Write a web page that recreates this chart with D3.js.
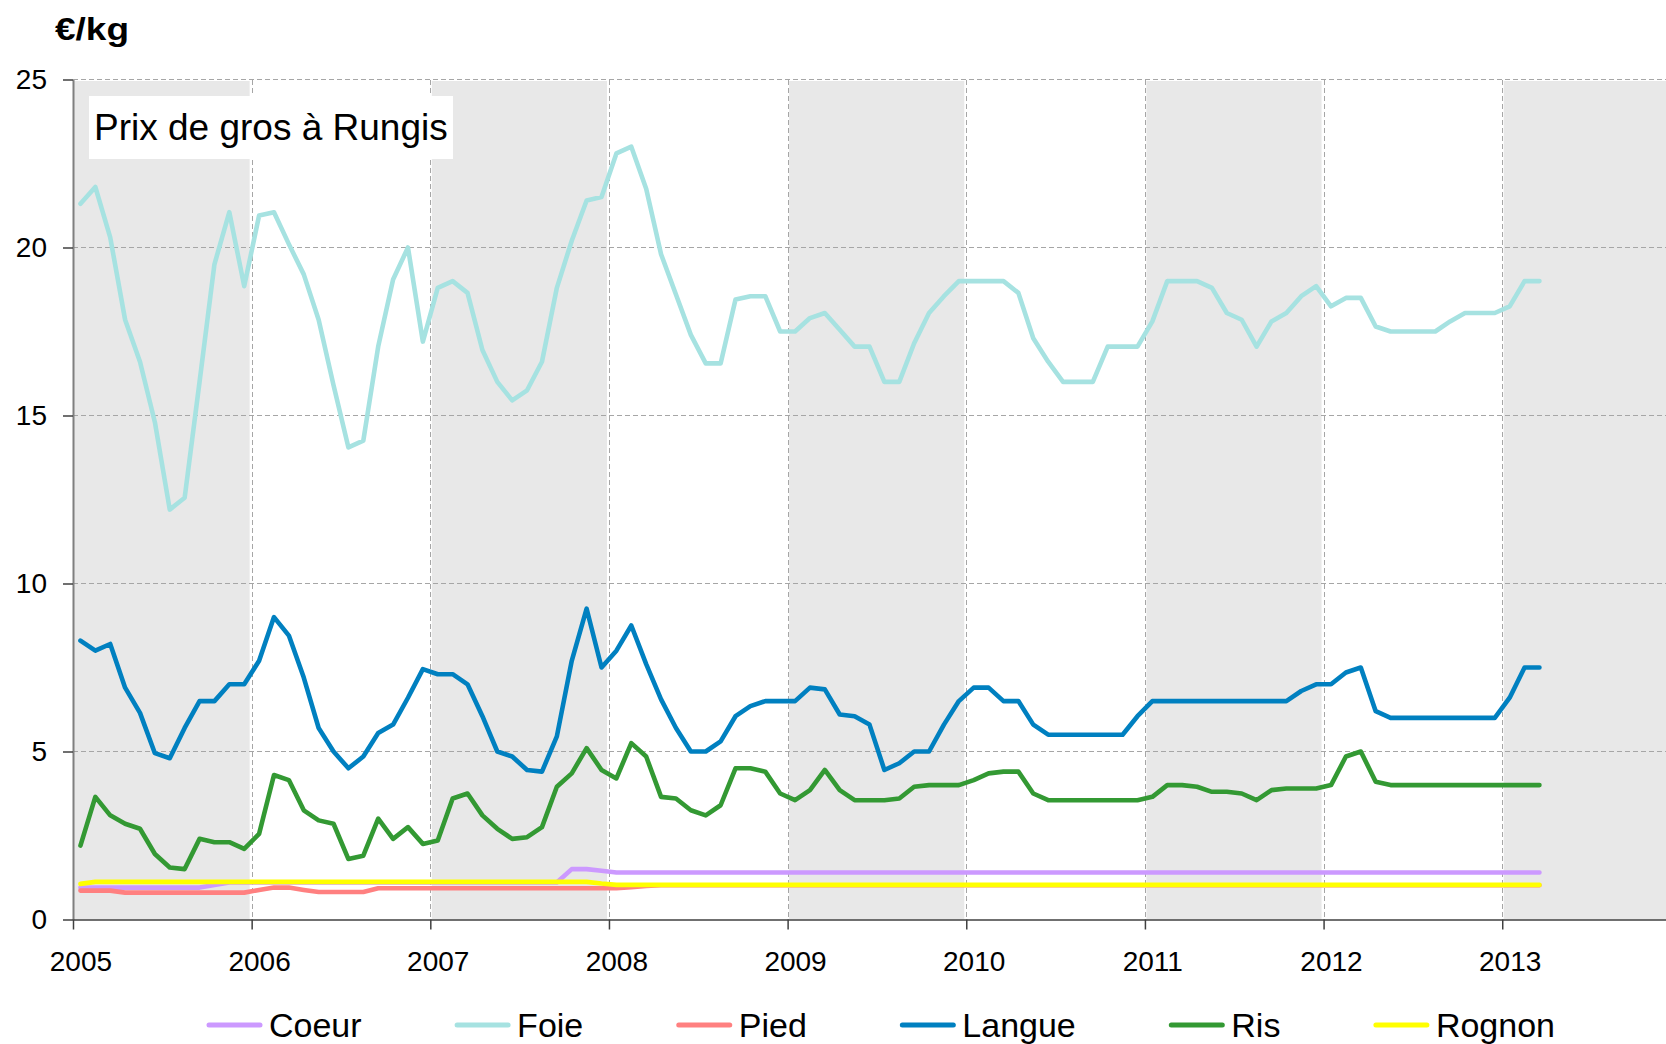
<!DOCTYPE html>
<html><head><meta charset="utf-8">
<script src="https://cdn.jsdelivr.net/npm/d3@7"></script>
<style>
body{margin:0;background:#fff}
svg{display:block;font-family:"Liberation Sans",Arial,sans-serif}
</style>
</head><body>
<svg id="c" width="1666" height="1044"></svg>
<script>
// ---- data ----
const years = ["2005","2006","2007","2008","2009","2010","2011","2012","2013"];
const yTicks = [0,5,10,15,20,25];
const seriesNames = ["Coeur","Foie","Pied","Langue","Ris","Rognon"];
const seriesColors = ["#cc99ff","#a6e2e1","#ff8080","#0080c0","#339933","#ffff00"];
const unitLabel = "€/kg";
const boxTitle = "Prix de gros à Rungis";

// monthly values, Jan 2005 .. Mar 2013
const coeur = [0.95,0.95,0.95,0.95,0.95,0.95,0.95,0.95,0.95,1.03,
  1.1,1.1,1.1,1.1,1.1,1.1,1.1,1.1,1.1,1.1,1.1,1.1,1.1,1.1,1.1,1.1,1.1,1.1,1.1,1.1,1.1,1.1,1.1,
  1.5,1.5,1.45,
  1.4,1.4,1.4,1.4,1.4,1.4,1.4,1.4,1.4,1.4,1.4,1.4,1.4,1.4,1.4,1.4,1.4,1.4,1.4,1.4,1.4,1.4,1.4,1.4,1.4,
  1.4,1.4,1.4,1.4,1.4,1.4,1.4,1.4,1.4,1.4,1.4,1.4,1.4,1.4,1.4,1.4,1.4,1.4,1.4,1.4,1.4,1.4,1.4,1.4,1.4,
  1.4,1.4,1.4,1.4,1.4,1.4,1.4,1.4,1.4,1.4,1.4,1.4,1.4];
const foie = [21.3,21.8,20.3,17.85,16.6,14.8,12.2,12.55,16.0,19.5,
  21.05,18.85,20.95,21.05,20.1,19.2,17.85,15.9,14.05,14.25,
  17.05,19.05,20.0,17.2,18.8,19.0,18.65,16.95,16.0,15.45,
  15.75,16.6,18.8,20.2,21.4,21.5,22.8,23.0,21.75,19.8,
  18.6,17.4,16.55,16.55,18.45,18.55,18.55,17.5,17.5,17.9,
  18.05,17.55,17.05,17.05,16.0,16.0,17.15,18.05,18.55,19.0,
  19.0,19.0,19.0,18.65,17.3,16.6,16.0,16.0,16.0,17.05,
  17.05,17.05,17.8,19.0,19.0,19.0,18.8,18.05,17.85,17.05,
  17.8,18.05,18.55,18.85,18.25,18.5,18.5,17.65,17.5,17.5,
  17.5,17.5,17.8,18.05,18.05,18.05,18.25,19.0,19.0];
const pied = [0.86,0.86,0.86,0.8,0.8,0.8,0.8,0.8,0.8,0.8,0.8,0.8,
  0.88,0.95,0.95,0.88,0.82,0.82,0.82,0.82,
  0.93,0.93,0.93,0.93,0.93,0.93,0.93,0.93,0.93,0.93,0.93,0.93,0.93,0.93,0.93,0.93,0.93,
  0.96,1.0,
  1.02,1.02,1.02,1.02,1.02,1.02,1.02,1.02,1.02,1.02,1.02,1.02,1.02,1.02,1.02,1.02,1.02,1.02,1.02,1.02,
  1.02,1.02,1.02,1.02,1.02,1.02,1.02,1.02,1.02,1.02,1.02,1.02,1.02,1.02,1.02,1.02,1.02,1.02,1.02,1.02,
  1.02,1.02,1.02,1.02,1.02,1.02,1.02,1.02,1.02,1.02,1.02,1.02,1.02,1.02,1.02,1.02,1.02,1.02,1.02,1.02];
const langue = [8.3,8.0,8.2,6.9,6.15,4.95,4.8,5.7,6.5,6.5,
  7.0,7.0,7.7,9.0,8.45,7.2,5.7,5.0,4.5,4.85,
  5.55,5.8,6.6,7.45,7.3,7.3,7.0,6.05,5.0,4.85,
  4.45,4.4,5.45,7.7,9.25,7.5,8.0,8.75,7.6,6.55,
  5.7,5.0,5.0,5.3,6.05,6.35,6.5,6.5,6.5,6.9,
  6.85,6.1,6.05,5.8,4.45,4.65,5.0,5.0,5.8,6.5,
  6.9,6.9,6.5,6.5,5.8,5.5,5.5,5.5,5.5,5.5,
  5.5,6.05,6.5,6.5,6.5,6.5,6.5,6.5,6.5,6.5,
  6.5,6.5,6.8,7.0,7.0,7.35,7.5,6.2,6.0,6.0,
  6.0,6.0,6.0,6.0,6.0,6.0,6.6,7.5,7.5];
const ris = [2.2,3.65,3.1,2.85,2.7,1.95,1.55,1.5,2.4,2.3,
  2.3,2.1,2.55,4.3,4.15,3.25,2.95,2.85,1.8,1.9,
  3.0,2.4,2.75,2.25,2.35,3.6,3.75,3.1,2.7,2.4,
  2.45,2.75,3.95,4.35,5.1,4.45,4.2,5.25,4.85,3.65,
  3.6,3.25,3.1,3.4,4.5,4.5,4.4,3.75,3.55,3.85,
  4.45,3.85,3.55,3.55,3.55,3.6,3.95,4.0,4.0,4.0,
  4.15,4.35,4.4,4.4,3.75,3.55,3.55,3.55,3.55,3.55,
  3.55,3.55,3.65,4.0,4.0,3.95,3.8,3.8,3.75,3.55,
  3.85,3.9,3.9,3.9,4.0,4.85,5.0,4.1,4.0,4.0,
  4.0,4.0,4.0,4.0,4.0,4.0,4.0,4.0,4.0];
const rognon = [1.06,
  1.12,1.12,1.12,1.12,1.12,1.12,1.12,1.12,1.12,1.12,1.12,1.12,1.12,1.12,1.12,1.12,1.12,
  1.12,1.12,1.12,1.12,1.12,1.12,1.12,1.12,1.12,1.12,1.12,1.12,1.12,1.12,1.12,1.12,1.12,
  1.07,
  1.03,1.03,1.03,1.03,1.03,1.03,1.03,1.03,1.03,1.03,1.03,1.03,1.03,1.03,1.03,1.03,1.03,1.03,1.03,1.03,1.03,
  1.03,1.03,1.03,1.03,1.03,1.03,1.03,1.03,1.03,1.03,1.03,1.03,1.03,1.03,1.03,1.03,1.03,1.03,1.03,1.03,1.03,
  1.03,1.03,1.03,1.03,1.03,1.03,1.03,1.03,1.03,1.03,1.03,1.03,1.03,1.03,1.03,1.03,1.03,1.03,1.03,1.03,1.03];
const seriesValues = [coeur, foie, pied, langue, ris, rognon];

// ---- layout ----
const svg = d3.select("#c");
const plotLeft = 73, plotRight = 1666, plotTop = 79.5, plotBottom = 919.5;
const monthsInAxis = 107; // Jan 2005 .. Dec 2013
const x = d3.scaleLinear().domain([0, monthsInAxis]).range([plotLeft, plotRight]);
const y = d3.scaleLinear().domain([0, 25]).range([plotBottom, plotTop]);
const yearStarts = years.map((d,i)=>i*12);

// alternating shaded year bands
const bands = svg.append("g");
yearStarts.forEach((m,i)=>{
  if (i % 2 !== 0) return;
  const x0 = x(m) + (i===0 ? 1 : 1.5);
  const x1 = Math.min(x(m+12) - 2, plotRight);
  bands.append("rect").attr("x", x0).attr("y", plotTop + 1.5)
    .attr("width", x1 - x0).attr("height", plotBottom - plotTop - 1.5)
    .attr("fill", "#e8e8e8");
});

// gridlines
const grid = svg.append("g").attr("stroke", "#a6a6a6").attr("stroke-width", 1)
  .attr("stroke-dasharray", "5,3").attr("shape-rendering","crispEdges");
yTicks.filter(d=>d>0).forEach(v=>{
  grid.append("line").attr("x1", plotLeft).attr("x2", plotRight).attr("y1", y(v)).attr("y2", y(v));
});
yearStarts.filter(m=>m>0).forEach(m=>{
  const xx = Math.round(x(m)) + 0.5;
  grid.append("line").attr("x1", xx).attr("x2", xx).attr("y1", plotTop).attr("y2", plotBottom);
});

// title box
svg.append("rect").attr("x", 89).attr("y", 96).attr("width", 364).attr("height", 63).attr("fill", "#fff");
svg.append("text").attr("x", 94).attr("y", 140).attr("font-size", 37).attr("fill", "#000").text(boxTitle);

// axes
const yAxis = svg.append("g").attr("transform", `translate(${plotLeft},0)`)
  .call(d3.axisLeft(y).tickValues(yTicks).tickSize(10).tickSizeOuter(0).tickPadding(16).tickFormat(d3.format("d")));
yAxis.select(".domain").attr("stroke", "#7f7f7f").attr("stroke-width", 2);
yAxis.selectAll(".tick line").attr("stroke", "#404040").attr("stroke-width", 1.5);
yAxis.selectAll("text").attr("font-size", 28).attr("font-family", "Liberation Sans, Arial, sans-serif").attr("fill","#000");

const xAxis = svg.append("g").attr("transform", `translate(0,${plotBottom})`)
  .call(d3.axisBottom(x).tickValues(yearStarts).tickSize(10).tickSizeOuter(0).tickPadding(22)
    .tickFormat((d,i)=>years[i]));
xAxis.select(".domain").attr("stroke", "#404040").attr("stroke-width", 1.5);
xAxis.selectAll(".tick line").attr("stroke", "#404040").attr("stroke-width", 1.5);
xAxis.selectAll("text").attr("font-size", 28).attr("font-family", "Liberation Sans, Arial, sans-serif")
  .attr("fill","#000").attr("dx", (x(0.5)-x(0)).toFixed(1));

// unit label
svg.append("text").attr("x", 55).attr("y", 40).attr("font-size", 32).attr("font-weight", "bold")
  .attr("textLength", 74).attr("lengthAdjust", "spacingAndGlyphs")
  .attr("fill", "#000").text(unitLabel);

// series lines
const line = d3.line().x((d,i)=>x(i+0.5)).y(d=>y(d));
const lines = svg.append("g");
seriesValues.forEach((vals, k)=>{
  lines.append("path").attr("d", line(vals)).attr("fill", "none")
    .attr("stroke", seriesColors[k]).attr("stroke-width", 4.6)
    .attr("stroke-linejoin", "round").attr("stroke-linecap", "round");
});

// legend
const legend = svg.append("g");
let lx = 207;
seriesNames.forEach((name, k)=>{
  legend.append("line").attr("x1", lx + 2).attr("x2", lx + 53).attr("y1", 1025).attr("y2", 1025)
    .attr("stroke", seriesColors[k]).attr("stroke-width", 5).attr("stroke-linecap", "round");
  const t = legend.append("text").attr("x", lx + 62).attr("y", 1037).attr("font-size", 34)
    .attr("fill", "#000").text(name);
  lx = lx + 62 + t.node().getComputedTextLength() + 93.5;
});
</script>
</body></html>
